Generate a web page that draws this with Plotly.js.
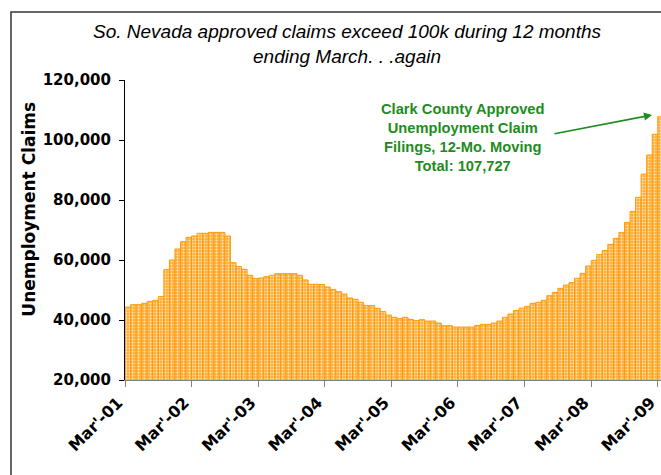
<!DOCTYPE html>
<html>
<head>
<meta charset="utf-8">
<script src="https://cdn.plot.ly/plotly-3.0.1.min.js"></script>
<style>
  html, body { margin: 0; padding: 0; background: #ffffff; }
  #chart { width: 661px; height: 475px; }
</style>
</head>
<body>
<div id="chart"></div>
<script>
// Clark County approved unemployment claim filings, 12-month moving total, monthly Mar-01 .. Mar-09
const claims = [
  44300, 45100, 45100, 45550, 46200, 46550, 47800, 56800, 60000, 63650, 66100, 67550,
  68000, 68900, 68900, 69200, 69200, 69200, 68000, 59100, 57800, 56900, 54900, 53800,
  54000, 54450, 54900, 55450, 55450, 55450, 55450, 54900, 53350, 51900, 51900, 51800,
  51000, 50200, 49450, 48650, 47350, 46900, 45900, 44800, 44800, 43900, 42800, 41650,
  40900, 40450, 40900, 40200, 39800, 40100, 39650, 39650, 39000, 38100, 38100, 37650,
  37650, 37650, 37650, 38200, 38550, 38550, 39000, 39650, 40900, 42000, 43150, 43950,
  44550, 45550, 45900, 46550, 48100, 49200, 50550, 51650, 52450, 53900, 55550, 58000,
  59900, 61800, 63200, 65200, 67200, 69200, 72550, 76200, 80900, 88650, 95000, 101900,
  107727
];
const yearLabels = ["Mar'-01", "Mar'-02", "Mar'-03", "Mar'-04", "Mar'-05", "Mar'-06", "Mar'-07", "Mar'-08", "Mar'-09"];
const yTicks = [20000, 40000, 60000, 80000, 100000, 120000];
const titleText = "So. Nevada approved claims exceed 100k during 12 months<br>ending March. . .again";
const yTitleText = "Unemployment Claims";
const noteText = "Clark County Approved<br>Unemployment Claim<br>Filings, 12-Mo. Moving<br>Total: 107,727";

const monthPos = claims.map((_, i) => i + 0.5);       // bar centres, one unit per month
const yearTickPos = yearLabels.map((_, k) => k * 12);  // March of each year = left edge of its bar

const trace = {
  type: 'bar',
  x: monthPos,
  y: claims,
  width: 1,
  marker: {
    color: '#FFB547',
    line: { color: '#FF9A0A', width: 1 },
    pattern: { shape: '.', fillmode: 'overlay', bgcolor: '#FFAE3A', fgcolor: '#FFE3B0', fgopacity: 1, size: 3, solidity: 0.35 }
  },
  hoverinfo: 'y'
};

const green = '#1E8C1E';
const layout = {
  width: 661, height: 475,
  margin: { l: 125, r: 0, t: 80, b: 95 },
  paper_bgcolor: '#ffffff', plot_bgcolor: '#ffffff',
  showlegend: false,
  bargap: 0,
  title: {
    text: titleText,
    font: { family: 'Liberation Sans, Arial, sans-serif', size: 19, style: 'italic', color: '#000' },
    xref: 'container', x: 0.525, xanchor: 'center',
    yref: 'container', y: 0.92, yanchor: 'top'
  },
  xaxis: {
    range: [0, 96.58],
    tickvals: yearTickPos, ticktext: yearLabels,
    tickangle: -45,
    ticklabeloverflow: 'allow',
    ticklabelshift: -7,
    tickfont: { family: 'DejaVu Sans, sans-serif', size: 16, weight: 'bold', color: '#000' },
    ticks: 'outside', ticklen: 6, tickcolor: '#808080', tickwidth: 1,
    showline: true, linecolor: '#808080', linewidth: 1,
    showgrid: false, zeroline: false, fixedrange: true
  },
  yaxis: {
    range: [20000, 120000],
    tickvals: yTicks, tickformat: ',d',
    tickfont: { family: 'DejaVu Sans, sans-serif', size: 15, weight: 'bold', color: '#000' },
    ticks: 'outside', ticklen: 5, tickcolor: '#000', tickwidth: 1,
    ticklabelstandoff: 5,
    showline: true, linecolor: '#000', linewidth: 1,
    showgrid: false, zeroline: false, fixedrange: true
  },
  annotations: [
    {
      text: yTitleText, textangle: -90,
      xref: 'paper', yref: 'paper', x: -0.179, y: 0.568,
      xanchor: 'center', yanchor: 'middle', showarrow: false,
      font: { family: 'DejaVu Sans, sans-serif', size: 17, weight: 'bold', color: '#000' }
    },
    {
      text: noteText,
      xref: 'paper', yref: 'paper', x: (462 - 125) / 536, y: (380 - 137) / 300,
      xanchor: 'center', yanchor: 'middle', showarrow: false, align: 'center',
      font: { family: 'Liberation Sans, Arial, sans-serif', size: 14.7, weight: 'bold', color: green }
    },
    {
      text: '',
      xref: 'paper', yref: 'paper', x: (652 - 125) / 536, y: (380 - 115) / 300,
      axref: 'pixel', ayref: 'pixel', ax: -99, ay: 19,
      showarrow: true, arrowhead: 2, arrowsize: 1, arrowwidth: 1.6, arrowcolor: green, standoff: 0
    }
  ],
  shapes: [
    {
      type: 'rect', xref: 'paper', yref: 'paper', layer: 'above',
      x0: (11 - 125) / 536, x1: 1.1, y0: -0.5, y1: (380 - 12) / 300,
      line: { color: '#333333', width: 1.5 }, fillcolor: 'rgba(0,0,0,0)'
    }
  ]
};

Plotly.newPlot('chart', [trace], layout, { displayModeBar: false, staticPlot: true });
</script>
</body>
</html>
